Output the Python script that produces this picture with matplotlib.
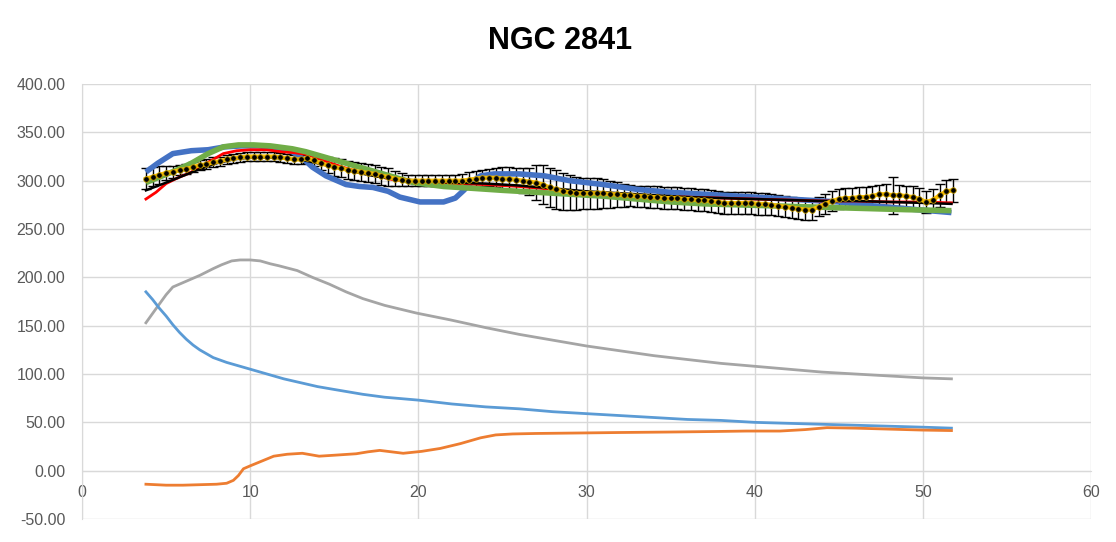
import numpy as np
import matplotlib
matplotlib.use("Agg")
import matplotlib.pyplot as plt

plt.rcParams['font.family'] = ['Liberation Sans', 'DejaVu Sans']

title = "NGC 2841"

# Observed rotation curve (dotted, with error bars)
r_obs = np.round(np.arange(3.8, 51.81, 0.4), 1)
v_obs = [302, 304, 306, 308, 309, 311, 312, 314, 316, 317,
         319, 320, 322, 323, 324, 325, 325, 325, 325, 325,
         324, 323, 322, 322, 323, 321, 318, 316, 314, 313,
         311, 310, 309, 308, 307, 305, 304, 302, 301, 300,
         300, 300, 300, 300, 300, 300, 300, 300, 301, 302,
         303, 303, 303, 302, 302, 301, 300, 299, 298, 296,
         293, 291, 289, 288, 287, 287, 287, 287, 287, 286,
         286, 285, 285, 284, 284, 283, 283, 282, 282, 282,
         281, 281, 280, 280, 279, 278, 277, 277, 277, 277,
         277, 276, 276, 275, 274, 273, 272, 271, 270, 270,
         273, 276, 279, 281, 282, 282, 283, 283, 284, 286,
         286, 285, 285, 284, 283, 281, 278, 280, 285, 289,
         290]
e_obs = [11, 10, 9, 7, 6, 5, 5, 5, 5, 5,
         5, 5, 5, 5, 5, 5, 5, 5, 5, 5,
         5, 5, 5, 5, 5, 6, 7, 8, 9, 9,
         9, 9, 9, 9, 9, 9, 9, 8, 7, 6,
         6, 6, 6, 6, 6, 6, 6, 7, 8, 8,
         8, 9, 10, 12, 12, 12, 13, 14, 18, 20,
         20, 20, 19, 18, 17, 16, 16, 16, 15, 14,
         13, 12, 11, 11, 11, 11, 11, 11, 11, 11,
         11, 11, 11, 11, 11, 11, 11, 11, 11, 11,
         11, 11, 11, 11, 11, 11, 11, 11, 11, 11,
         10, 10, 10, 10, 10, 10, 10, 10, 10, 10,
         11, 19, 11, 11, 11, 11, 11, 11, 12, 12,
         12]

# Thick blue curve
r_blue = [3.8, 4.5, 5.4, 6.5, 7.5, 8.5, 9.5, 10.5, 11.5, 12.5, 13.2, 13.7, 14.5,
          15.7, 16.5, 17.3, 18.2, 18.9, 20.1, 21.5, 22.2, 22.7, 23.2, 23.7, 24.5,
          26, 27.5, 29, 31, 33, 35, 37, 39, 41, 43, 45, 47, 49, 51.7]
v_blue = [309, 318, 328, 331, 332, 335, 336, 336, 334, 330, 322, 314, 305,
          296, 294, 293, 289, 283, 278, 278, 282, 290, 299, 305, 307,
          307, 305, 300, 296, 291, 288, 286, 284, 282, 280, 278, 274, 271, 267]

# Red curve
r_red = [3.8, 4.4, 5.0, 5.7, 6.4, 7.4, 8.4, 9.2, 10, 11, 11.8, 12.6, 13.4, 14.5,
         15.5, 16.5, 17.5, 18.5, 20, 22, 24, 26, 28, 30, 32, 34, 36, 38, 40, 42,
         44, 46, 48, 50, 51.7]
v_red = [281, 288, 297, 303, 308, 318, 328, 331, 332, 332, 330, 329, 327, 320,
         314, 309, 305, 301, 298, 297, 296, 294, 291, 288, 286, 284, 283, 282, 281, 280,
         279, 279, 278, 278, 277]

# Green curve
r_green = [3.8, 4.5, 5.5, 6.5, 7.5, 8.4, 9.3, 10.2, 11.2, 12.5, 13.3, 14.1, 15.1,
           16.1, 17.7, 19.7, 21.5, 23.3, 25, 27, 29, 31, 33, 35, 37, 39, 41, 43,
           45, 47, 49, 51.7]
v_green = [298, 303, 310, 318, 328, 335, 337, 337, 336, 333, 330, 326, 321,
           316, 308, 298, 294, 292, 290, 288, 286, 284, 281, 278, 276, 275, 274, 273,
           272, 271, 270, 269]

# Black curve
r_black = [3.8, 5, 6, 7, 8, 9, 10, 11, 12, 13, 14, 15, 16, 17, 18, 20, 22, 24, 26,
           28, 30, 32, 34, 36, 38, 40, 42, 44, 46, 48, 50, 51.7]
v_black = [290, 298, 305, 312, 318, 322, 324, 324, 323, 322, 318, 314, 310, 306,
           303, 300, 298, 297, 295, 292, 289, 287, 285, 283, 282, 281, 280, 279,
           279, 278, 277, 276]

# Gray curve
r_gray = [3.8, 4.5, 5.0, 5.4, 6.2, 7.0, 7.8, 8.3, 8.9, 9.4, 10.0, 10.6, 11.2, 11.7,
          12.8, 13.7, 14.7, 15.7, 16.7, 18, 19.9, 21.9, 24, 26, 28, 30, 32, 34, 36,
          38, 40, 42, 44, 46, 48, 50, 51.7]
v_gray = [153, 170, 182, 190, 196, 202, 209, 213, 217, 218, 218, 217, 214, 212,
          207, 200, 193, 185, 178, 171, 163, 156, 148, 141, 135, 129, 124, 119, 115,
          111, 108, 105, 102, 100, 98, 96, 95]

# Light blue curve
r_lblue = [3.8, 4.2, 4.6, 5.0, 5.4, 5.8, 6.2, 6.6, 7.0, 7.4, 7.8, 8.6, 9.4, 10.2,
           11, 12, 13, 14, 15, 16.7, 18, 20, 22, 24, 26, 28, 30, 32, 34, 36, 38,
           40, 42, 44, 46, 48, 50, 51.7]
v_lblue = [185, 177, 168, 160, 151, 143, 136, 130, 125, 121, 117, 112, 108, 104,
           100, 95, 91, 87, 84, 79, 76, 73, 69, 66, 64, 61, 59, 57, 55, 53, 52,
           50, 49, 48, 47, 46, 45, 44]

# Orange curve
r_orange = [3.8, 5, 6, 7, 8, 8.6, 9.0, 9.3, 9.6, 10, 10.7, 11.4, 12.2, 13.1, 13.6,
            14.1, 15, 16.3, 17, 17.7, 18.4, 19.1, 20.2, 21.3, 22.5, 23.7, 24.6,
            25.6, 27, 29.6, 32, 35, 37.5, 39.5, 41.5, 43, 44.3, 46, 48, 50, 51.7]
v_orange = [-14, -15, -15, -14.5, -14, -13, -10, -5, 2, 5, 10, 15, 17, 18, 16.5,
            15, 16, 17.5, 19.5, 21, 19.5, 18, 20, 23, 28, 34, 37,
            38, 38.5, 39, 39.5, 40, 40.5, 41, 41, 42.5, 44.5, 44, 43, 42, 41.5]

x_ticks = [0, 10, 20, 30, 40, 50, 60]
y_ticks = [-50, 0, 50, 100, 150, 200, 250, 300, 350, 400]

fig = plt.figure(figsize=(11.16, 5.42), dpi=100)
ax = fig.add_axes([0.0735, 0.0424, 0.9041, 0.8026])

ax.plot(r_gray, v_gray, color='#A5A5A5', lw=2.0, zorder=3)
ax.plot(r_lblue, v_lblue, color='#5B9BD5', lw=2.0, zorder=3)
ax.plot(r_orange, v_orange, color='#ED7D31', lw=2.0, zorder=3)

ax.errorbar(r_obs, v_obs, yerr=e_obs, fmt='none', ecolor='black', elinewidth=1.0,
            capsize=3.5, capthick=1.0, zorder=4)
ax.plot(r_blue, v_blue, color='#4472C4', lw=4.0, zorder=5, solid_capstyle='butt')
ax.plot(r_red, v_red, color='#FF0000', lw=2.0, zorder=6)
ax.plot(r_green, v_green, color='#70AD47', lw=4.0, zorder=7, solid_capstyle='butt')
ax.plot(r_black, v_black, color='black', lw=1.8, zorder=8)
ax.plot(r_obs, v_obs, color='#FFC000', lw=3.0, zorder=9,
        marker='o', markersize=4.0, markerfacecolor='black',
        markeredgecolor='#C9A000', markeredgewidth=0.6)

ax.set_xlim(0, 60)
ax.set_ylim(-50, 400)
ax.set_xticks(x_ticks)
ax.set_yticks(y_ticks)
ax.set_xticklabels([str(t) for t in x_ticks])
ax.set_yticklabels([f"{t:.2f}" for t in y_ticks])
ax.grid(True, color='#D9D9D9', lw=1.0, zorder=0)
ax.set_axisbelow(True)

for s in ['top', 'right']:
    ax.spines[s].set_visible(False)
ax.spines['bottom'].set_position(('data', 0))
ax.spines['bottom'].set_color('#D9D9D9')
ax.spines['left'].set_color('#D9D9D9')
ax.tick_params(axis='both', length=0, labelcolor='#595959', labelsize=11.5)
ax.tick_params(axis='x', pad=10)
ax.tick_params(axis='y', pad=12)

fig.text(0.502, 0.925, title, ha='center', va='center', fontsize=22,
         fontweight='bold', color='black')

fig.savefig('out.png', dpi=100)
